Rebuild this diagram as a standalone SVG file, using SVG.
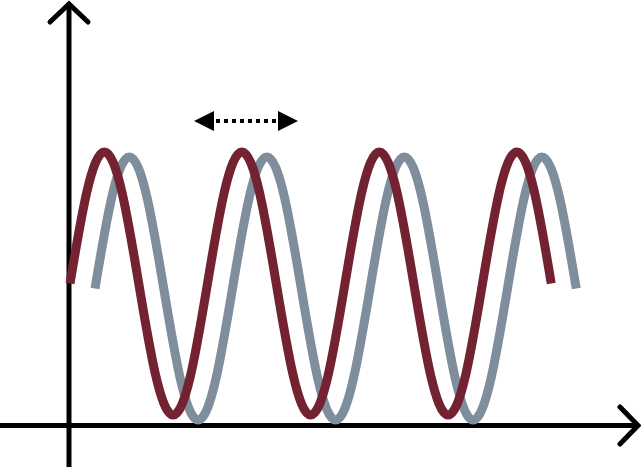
<svg xmlns="http://www.w3.org/2000/svg" width="641" height="467" viewBox="0 0 641 467">
<defs>
<style>
.axis{fill:none;stroke:#000;stroke-width:5}
.head{fill:none;stroke:#000;stroke-width:5;stroke-linecap:round;stroke-linejoin:miter}
.wave{fill:none;stroke-width:9;stroke-linecap:butt}
</style>
</defs>
<rect width="641" height="467" fill="#fff"/>
<g id="axes">
<line class="axis" x1="69" y1="6" x2="69" y2="467"/>
<polyline class="head" points="50,22 69,4 88,22"/>
<line class="axis" x1="0" y1="425.5" x2="636" y2="425.5"/>
<polyline class="head" points="620,407 638,425.5 620,444"/>
</g>
<g id="wave-grey">
<path class="wave" stroke="#7f8e9c" d="M95,288.5
c 11.21,-67.37 21.93,-131.5 34.375,-131.5 c 12.445,0 23.165,64.13 34.375,131.5 c 11.21,67.37 21.93,131.5 34.375,131.5 c 12.445,0 23.165,-64.13 34.375,-131.5
c 11.21,-67.37 21.93,-131.5 34.375,-131.5 c 12.445,0 23.165,64.13 34.375,131.5 c 11.21,67.37 21.93,131.5 34.375,131.5 c 12.445,0 23.165,-64.13 34.375,-131.5
c 11.21,-67.37 21.93,-131.5 34.375,-131.5 c 12.445,0 23.165,64.13 34.375,131.5 c 11.21,67.37 21.93,131.5 34.375,131.5 c 12.445,0 23.165,-64.13 34.375,-131.5
c 11.21,-67.37 21.93,-131.5 34.375,-131.5 c 12.445,0 23.165,64.13 34.375,131.5"/>
</g>
<g id="wave-red">
<path class="wave" stroke="#722231" d="M70,283.5
c 11.21,-67.37 21.93,-131.5 34.375,-131.5 c 12.445,0 23.165,64.13 34.375,131.5 c 11.21,67.37 21.93,131.5 34.375,131.5 c 12.445,0 23.165,-64.13 34.375,-131.5
c 11.21,-67.37 21.93,-131.5 34.375,-131.5 c 12.445,0 23.165,64.13 34.375,131.5 c 11.21,67.37 21.93,131.5 34.375,131.5 c 12.445,0 23.165,-64.13 34.375,-131.5
c 11.21,-67.37 21.93,-131.5 34.375,-131.5 c 12.445,0 23.165,64.13 34.375,131.5 c 11.21,67.37 21.93,131.5 34.375,131.5 c 12.445,0 23.165,-64.13 34.375,-131.5
c 11.21,-67.37 21.93,-131.5 34.375,-131.5 c 12.445,0 23.165,64.13 34.375,131.5"/>
</g>
<g id="period-arrow">
<line x1="216" y1="121" x2="278" y2="121" stroke="#000" stroke-width="4" stroke-dasharray="4 4"/>
<polygon points="194,121 214,111 214,131" fill="#000"/>
<polygon points="298,121 278,111 278,131" fill="#000"/>
</g>
</svg>
